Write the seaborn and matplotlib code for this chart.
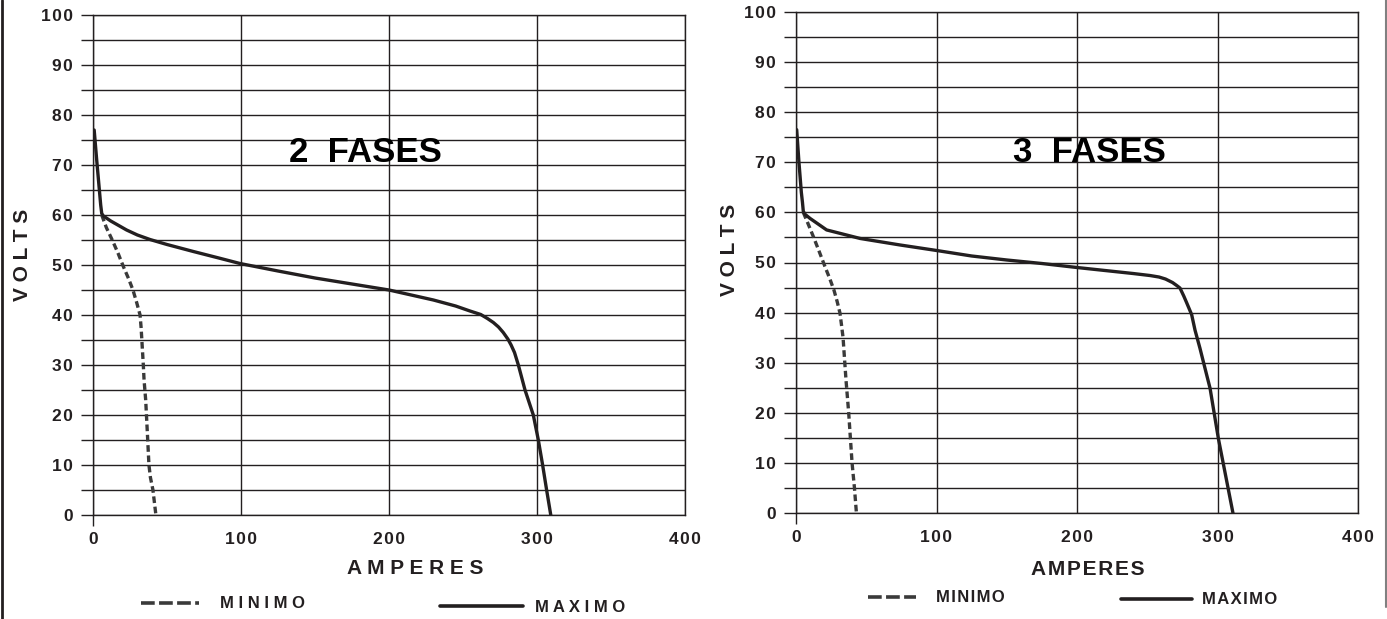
import numpy as np
import pandas as pd
import matplotlib
matplotlib.use('Agg')
import matplotlib.pyplot as plt
from matplotlib.lines import Line2D
import seaborn as sns

# Curvas 2 FASES (amperes, volts)
amp_max_2f = [0.8, 2.5, 4.3, 5.2, 5.9, 7, 12, 22.7, 30, 38.5, 50, 67.8, 85, 99.3,
              125, 150, 175, 200, 215, 230, 245, 254.7, 262, 266.5, 270.5, 274,
              277.2, 280.3, 282.5, 284.8, 287.4, 291.9, 297.5, 300.9, 303.8, 306.5, 309.3]
volt_max_2f = [77, 71, 65, 62, 60.3, 59.8, 58.8, 57, 56, 55.1, 54.1, 52.7, 51.4, 50.3,
               48.8, 47.4, 46.2, 45, 44, 43, 41.8, 40.8, 40.1, 39.3, 38.5, 37.6,
               36.5, 35.2, 34, 32.5, 30, 25, 20, 15, 10, 5, 0]
amp_min_2f = [5.9, 9, 13, 17, 20.5, 24, 27, 29.5, 31.8, 32.5, 33, 34, 34.5, 35.6,
              36.8, 37.8, 38.8, 40.5, 42.5]
volt_min_2f = [60, 57.5, 55, 52.3, 49.7, 47.3, 45, 42.5, 40, 37.5, 35, 30, 27, 23,
               16, 10, 7.5, 5, 0]

# Curvas 3 FASES (amperes, volts)
amp_max_3f = [0.5, 2.1, 3.8, 4.6, 5.2, 6.5, 10, 21.8, 45.6, 74, 100, 125, 150, 175,
              200, 220, 240, 252, 258.4, 263, 268, 271, 273.3, 276, 278, 281.6,
              284, 287.5, 291, 294.7, 300.6, 311]
volt_max_3f = [76.5, 70, 64, 62, 60.2, 59.6, 58.8, 56.5, 54.8, 53.5, 52.4, 51.3, 50.5, 49.8,
               49, 48.4, 47.8, 47.4, 47.1, 46.7, 46, 45.4, 44.9, 43.3, 42, 39.6,
               36.5, 32.9, 29, 24.9, 14.9, 0]
amp_min_3f = [5.2, 8.5, 12.3, 16.5, 20.6, 24, 27, 29.3, 31.3, 32.4, 33.5, 34.6,
              35.6, 37.5, 39.9, 41.6, 43]
volt_min_3f = [60, 57.8, 55.2, 52.2, 49.2, 46.8, 44.5, 42.2, 39.9, 37.5, 35, 30.5,
               26.5, 20, 10, 5, 0]

x_ticks = [0, 100, 200, 300, 400]
y_ticks = list(range(0, 101, 5))

INK = '#231f20'
DASH_INK = '#3a3a3a'
HS = '\u200a'  # espacio muy fino

sns.set_style('white')
plt.rcParams['font.family'] = ['Liberation Sans', 'DejaVu Sans']
plt.rcParams['font.weight'] = 'bold'

W, H = 1387, 619
fig = plt.figure(figsize=(W / 100, H / 100), dpi=100)


def px_rect(x0, x1, ytop, ybot):
    return [x0 / W, 1 - ybot / H, (x1 - x0) / W, (ybot - ytop) / H]


def draw_panel(rect, amp_min, volt_min, amp_max, volt_max, title, title_xy,
               xlab, xlab_pos, ylab_pos):
    ax = fig.add_axes(rect)
    df_max = pd.DataFrame({'A': amp_max, 'V': volt_max})
    df_min = pd.DataFrame({'A': amp_min, 'V': volt_min})
    sns.lineplot(data=df_min, x='A', y='V', ax=ax, sort=False, estimator=None,
                 color=DASH_INK, linewidth=2.4)
    ax.lines[-1].set_dashes((2.0, 1.1))
    sns.lineplot(data=df_max, x='A', y='V', ax=ax, sort=False, estimator=None,
                 color=INK, linewidth=2.4)
    for ln in ax.lines:
        ln.set_solid_joinstyle('round')
    ax.set_xlim(0, 400)
    ax.set_ylim(0, 100)
    ax.set_xticks(x_ticks)
    ax.set_xticklabels([HS.join(str(v)) for v in x_ticks])
    ax.set_yticks(y_ticks)
    ax.set_yticklabels([HS.join(str(v)) if v % 10 == 0 else '' for v in y_ticks])
    ax.grid(True, color=INK, linewidth=1.0)
    for s in ax.spines.values():
        s.set_color(INK)
        s.set_linewidth(1.0)
    ax.tick_params(axis='y', length=8.6, width=1.0, color=INK, pad=6,
                   labelsize=12.5, labelcolor=INK, left=True)
    ax.tick_params(axis='x', length=8, width=1.0, color=INK, pad=4,
                   labelsize=12.5, labelcolor=INK, bottom=True)
    for t in ax.xaxis.get_major_ticks()[1:]:
        t.tick1line.set_visible(False)
    for lab in ax.get_xticklabels() + ax.get_yticklabels():
        lab.set_fontweight('bold')
    ax.set_xlabel(xlab, fontsize=15, fontweight='bold', color=INK)
    ax.xaxis.set_label_coords(*xlab_pos)
    ax.set_ylabel('V O L T S', fontsize=15, fontweight='bold', color=INK)
    ax.yaxis.set_label_coords(*ylab_pos)
    ax.text(title_xy[0], title_xy[1], title, fontsize=25, fontweight='bold',
            color='black', ha='center', va='center')
    return ax


ax1 = draw_panel(px_rect(93, 685, 15, 515), amp_min_2f, volt_min_2f,
                 amp_max_2f, volt_max_2f, '2  FASES', (184, 72.4),
                 'A M P E R E S', (0.544, -0.089), (-0.103, 0.52))
ax2 = draw_panel(px_rect(796, 1358, 12, 513), amp_min_3f, volt_min_3f,
                 amp_max_3f, volt_max_3f, '3  FASES', (209, 72),
                 HS.join('AMPERES'), (0.52, -0.094), (-0.102, 0.525))


def add_key(label, dashed, x_px, y_px, hlen, pad):
    if dashed:
        h = Line2D([], [], color=DASH_INK, linewidth=2.6, dashes=(3.8, 1.2))
    else:
        h = Line2D([], [], color=INK, linewidth=2.6)
    fig.legend(handles=[h], labels=[label], loc='center left',
               bbox_to_anchor=(x_px / W, 1 - y_px / H), frameon=False,
               borderpad=0, borderaxespad=0, handlelength=hlen,
               handletextpad=pad, prop={'size': 12, 'weight': 'bold'},
               labelcolor=INK)


add_key('M I N I M O', True, 141, 604, 3.5, 1.26)
add_key('M A X I M O', False, 440, 607, 5.0, 0.72)
add_key(HS.join('MINIMO'), True, 868, 598, 2.9, 1.2)
add_key(HS.join('MAXIMO'), False, 1121, 600, 4.26, 0.6)

# bordes de la página
fig.add_artist(Line2D([1.5 / W, 1.5 / W], [0, 1], transform=fig.transFigure,
                      color=INK, linewidth=2))
fig.add_artist(Line2D([1385.5 / W, 1385.5 / W], [0.02, 1], transform=fig.transFigure,
                      color='#808080', linewidth=1.5))

fig.savefig('out.png', dpi=100)
